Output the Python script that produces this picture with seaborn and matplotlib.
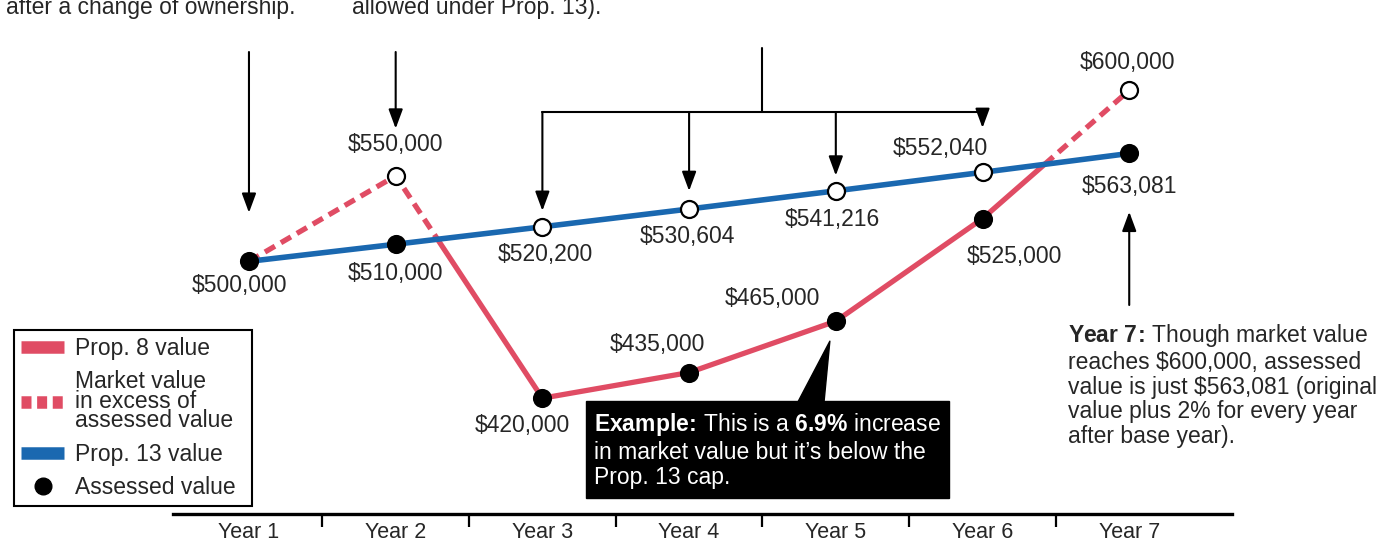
import numpy as np
import pandas as pd
import seaborn as sns
import matplotlib.pyplot as plt
import matplotlib.transforms as mtransforms
from matplotlib.lines import Line2D

# data
years = [1, 2, 3, 4, 5, 6, 7]
year_labels = ["Year 1", "Year 2", "Year 3", "Year 4", "Year 5", "Year 6", "Year 7"]
prop13_value = [500000, 510000, 520200, 530604, 541216, 552040, 563081]
market_value = [500000, 550000, 420000, 435000, 465000, 525000, 600000]

RED = "#e04c64"
BLUE = "#1a68b0"
FS = 16.5

sns.set_style("white")
plt.rcParams["font.family"] = ["Liberation Sans", "DejaVu Sans"]
plt.rcParams["mathtext.fontset"] = "custom"
plt.rcParams["mathtext.rm"] = "Liberation Sans"
plt.rcParams["mathtext.bf"] = "Liberation Sans:bold"
plt.rcParams["mathtext.it"] = "Liberation Sans:italic"

fig = plt.figure(figsize=(13.87, 5.43), dpi=100)
AX_H = 514
ax = fig.add_axes([0, (543 - AX_H) / 543, 1, AX_H / 543])

x = np.array(years, float)
m = np.array(market_value, float)
b = np.array(prop13_value, float)
assessed = np.minimum(m, b)
upper = np.maximum(m, b)
is_open = m != b

# split market line into Prop. 8 (solid) and excess (dashed) parts
rows = []
seg = 0
prev_kind = None
for i in range(len(x) - 1):
    xs = [x[i]]
    ms = [m[i]]
    d0, d1 = m[i] - b[i], m[i + 1] - b[i + 1]
    if d0 * d1 < 0:
        t = d0 / (d0 - d1)
        xs.append(x[i] + t * (x[i + 1] - x[i]))
        ms.append(m[i] + t * (m[i + 1] - m[i]))
    xs.append(x[i + 1])
    ms.append(m[i + 1])
    for j in range(len(xs) - 1):
        xm = (xs[j] + xs[j + 1]) / 2
        mm = (ms[j] + ms[j + 1]) / 2
        kind = "excess" if mm > np.interp(xm, x, b) else "prop8"
        if kind != prev_kind:
            seg += 1
            rows.append((xs[j], ms[j], seg, kind))
        rows.append((xs[j + 1], ms[j + 1], seg, kind))
        prev_kind = kind
red_df = pd.DataFrame(rows, columns=["x", "value", "seg", "kind"])

sns.lineplot(data=red_df, x="x", y="value", units="seg", estimator=None,
             style="kind", dashes={"prop8": "", "excess": (2.2, 1.3)},
             color=RED, linewidth=3.8, legend=False, sort=False, ax=ax, zorder=2)
sns.lineplot(x=years, y=prop13_value, color=BLUE, linewidth=4, ax=ax, zorder=3)

sns.scatterplot(x=x, y=assessed, s=190, color="black", edgecolor="black",
                linewidth=0, zorder=5, ax=ax)
sns.scatterplot(x=x[is_open], y=upper[is_open], s=150, color="white",
                edgecolor="black", linewidth=1.6, zorder=5, ax=ax)

# value labels
filled_off = [(-9, -24), (0, -29), (-20, -27), (-32, 28), (-63, 23), (32, -38), (0, -33)]
open_off = [(0, 0), (0, 31), (3, -28), (-2, -27), (-3, -29), (-42, 24), (-2, 28)]
for i in range(len(x)):
    ax.annotate("\\$" + f"{assessed[i]:,.0f}", xy=(x[i], assessed[i]), xytext=filled_off[i],
                textcoords="offset pixels", ha="center", va="center", fontsize=FS)
    if is_open[i]:
        ax.annotate("\\$" + f"{upper[i]:,.0f}", xy=(x[i], upper[i]), xytext=open_off[i],
                    textcoords="offset pixels", ha="center", va="center", fontsize=FS)

# pointer arrows
arrow_kw = dict(arrowstyle="-|>,head_length=0.65,head_width=0.24", color="black",
                lw=1.5, mutation_scale=18, shrinkA=0)
blend = mtransforms.blended_transform_factory(ax.transData, ax.transAxes)
top_y = 1 - 52 / AX_H
ax.annotate("", xy=(1, assessed[0]), xytext=(1, top_y), textcoords=("data", "axes fraction"),
            arrowprops={**arrow_kw, "shrinkB": 35})
ax.annotate("", xy=(2, upper[1]), xytext=(2, top_y), textcoords=("data", "axes fraction"),
            arrowprops={**arrow_kw, "shrinkB": 34})

bracket_y = 1 - 112 / AX_H
stem_x = (years[2] + years[5]) / 2
ax.plot([stem_x, stem_x], [1 - 48 / AX_H, bracket_y], transform=blend, color="black", lw=1.5)
ax.plot([years[2], years[5]], [bracket_y, bracket_y], transform=blend, color="black", lw=1.5)
for i, sh in zip([2, 3, 4, 5], [11.5, 13, 11, 32]):
    ax.annotate("", xy=(x[i], upper[i]), xytext=(x[i], bracket_y),
                textcoords=("data", "axes fraction"), arrowprops={**arrow_kw, "shrinkB": sh})

ax.annotate("", xy=(7, assessed[6]), xytext=(7, 1 - 305 / AX_H),
            textcoords=("data", "axes fraction"), arrowprops={**arrow_kw, "shrinkB": 42})

# notes
ax.text(6 / 1387, 1 - 14 / AX_H, "after a change of ownership.", transform=ax.transAxes,
        ha="left", va="baseline", fontsize=FS)
ax.text(352 / 1387, 1 - 14 / AX_H, "allowed under Prop. 13).", transform=ax.transAxes,
        ha="left", va="baseline", fontsize=FS)

ax.text(1068 / 1387, 1 - 322 / AX_H,
        "$\\bf{Year\\ 7\\!:\\!}$ Though market value\nreaches \\$600,000, assessed\n"
        "value is just \\$563,081 (original\nvalue plus 2% for every year\nafter base year).",
        transform=ax.transAxes, ha="left", va="top", fontsize=FS, linespacing=1.1)

ax.annotate("$\\bf{Example\\!:\\!}$ This is a $\\bf{6.9\\%}$ increase\n"
            "in market value but it\u2019s below the\nProp. 13 cap.",
            xy=(5, assessed[4]), xytext=(594 / 1387, 1 - 411 / AX_H), textcoords="axes fraction",
            ha="left", va="top", color="white", fontsize=FS, linespacing=1.15,
            bbox=dict(boxstyle="square,pad=0.36", fc="black", ec="black"),
            arrowprops=dict(arrowstyle="wedge,tail_width=1.25,shrink_factor=0.5", fc="black",
                            ec="black", relpos=(0.62, 1.0), patchA=None, shrinkA=0, shrinkB=15))

# legend
handles = [
    Line2D([], [], color=RED, lw=9, solid_capstyle="butt"),
    Line2D([], [], color=RED, lw=9, dashes=(0.8, 0.45), dash_capstyle="butt"),
    Line2D([], [], color=BLUE, lw=9, solid_capstyle="butt"),
    Line2D([], [], color="black", marker="o", ls="none", ms=12),
]
labels = ["Prop. 8 value", "Market value\nin excess of\nassessed value  ", "Prop. 13 value",
          "Assessed value"]
leg = ax.legend(handles, labels, loc="upper left", bbox_to_anchor=(14 / 1387, 1 - 330 / AX_H),
                fontsize=FS, handlelength=1.9, handletextpad=0.45, labelspacing=0.46,
                borderpad=0.3, borderaxespad=0, fancybox=False, edgecolor="black",
                framealpha=1)
leg.get_frame().set_linewidth(1.5)
for t in leg.get_texts():
    t.set_linespacing(0.8)

# axes
ax.set_xlim(-0.697, 8.757)
ax.set_ylim(351700 + (515 - AX_H) * 585, 652800)
ax.set_xticks(years, year_labels)
ax.set_xticks([1.5, 2.5, 3.5, 4.5, 5.5, 6.5], minor=True)
ax.tick_params(axis="x", which="both", bottom=True)
ax.tick_params(axis="x", which="major", length=0, pad=5.5, labelsize=15.5)
ax.tick_params(axis="x", which="minor", length=9, width=1.6, direction="out", color="black")
ax.set_yticks([])
ax.set_xlabel("")
ax.set_ylabel("")
sns.despine(ax=ax, left=True)
ax.spines["bottom"].set_bounds(0.48, 7.7)
ax.spines["bottom"].set_linewidth(2.4)
ax.spines["bottom"].set_color("black")

fig.savefig("out.png", dpi=100)
